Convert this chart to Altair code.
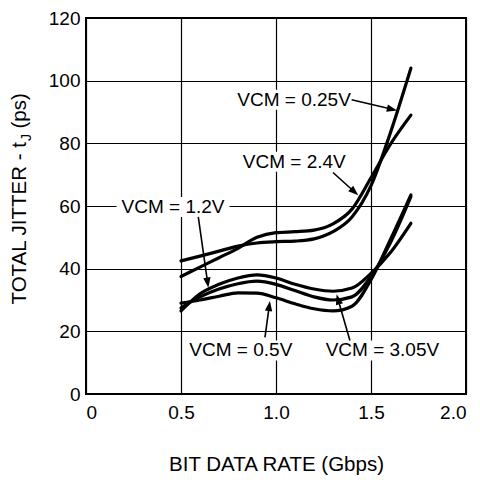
import math
import altair as alt
import pandas as pd

# ---------------- data ----------------
rate = [0.5, 0.6, 0.7, 0.8, 0.9, 1.0, 1.1, 1.2, 1.3, 1.4, 1.5, 1.6, 1.71]

vcm_025 = [42.5, 44.0, 45.6, 47.2, 48.2, 48.6, 48.8, 49.5, 51.8, 56.5, 66.5, 83.0, 104.0]
vcm_24 = [37.5, 40.5, 43.5, 46.5, 50.0, 51.5, 51.8, 52.3, 54.3, 59.0, 69.0, 79.5, 89.0]
vcm_12 = [26.5, 32.0, 35.0, 37.0, 38.0, 37.0, 35.0, 33.5, 32.8, 33.8, 38.5, 45.0, 54.5]
vcm_305 = [27.5, 31.0, 33.5, 35.2, 36.0, 35.0, 33.0, 31.0, 30.0, 31.0, 37.5, 48.0, 63.0]
vcm_05 = [29.0, 30.0, 31.2, 32.3, 32.2, 30.7, 28.8, 27.2, 26.5, 28.0, 36.5, 49.0, 63.5]

series_names = ["VCM = 0.25V", "VCM = 2.4V", "VCM = 1.2V", "VCM = 3.05V", "VCM = 0.5V"]
series_values = [vcm_025, vcm_24, vcm_12, vcm_305, vcm_05]

# annotation labels (data coordinates) and their arrows
label_text = ["VCM = 0.25V", "VCM = 2.4V", "VCM = 1.2V", "VCM = 0.5V", "VCM = 3.05V"]
label_x = [1.095, 1.096, 0.458, 0.815, 1.56]
label_y = [93.9, 74.1, 59.7, 13.9, 13.9]
arrow_x1 = [1.398, 1.30, 0.591, 0.942, 1.389]
arrow_y1 = [93.9, 70.7, 56.5, 18.1, 17.1]
arrow_x2 = [1.637, 1.433, 0.644, 0.968, 1.319]
arrow_y2 = [90.5, 63.4, 33.9, 29.7, 31.8]

x_ticks = [0, 0.5, 1.0, 1.5, 2.0]
y_ticks = [0, 20, 40, 60, 80, 100, 120]
x_title = "BIT DATA RATE (Gbps)"
y_title_main = "TOTAL JITTER - t"
y_title_sub = "J"
y_title_end = "(ps)"

# ---------------- layout / style ----------------
W, H = 380, 376
X_MAX, Y_MAX = 2.0, 120.0
PX_X = W / X_MAX
PX_Y = H / Y_MAX
FONT = "Liberation Sans"
FS = 19
TFS = 20.5
label_width_px = [116, 106, 107, 105, 116]

rows = []
for name, vals in zip(series_names, series_values):
    for r, v in zip(rate, vals):
        rows.append({"series": name, "rate": r, "jitter": v})
curves = pd.DataFrame(rows)

labels = pd.DataFrame({
    "text": label_text,
    "x": label_x,
    "y": label_y,
    "bx1": [x - (w / 2 + 3) / PX_X for x, w in zip(label_x, label_width_px)],
    "bx2": [x + (w / 2 + 3) / PX_X for x, w in zip(label_x, label_width_px)],
    "by1": [y - 10 / PX_Y for y in label_y],
    "by2": [y + 10 / PX_Y for y in label_y],
})

arrow_rows = []
for x1, y1, x2, y2 in zip(arrow_x1, arrow_y1, arrow_x2, arrow_y2):
    dx = (x2 - x1) * PX_X
    dy = -(y2 - y1) * PX_Y  # screen space, down positive
    ang = math.degrees(math.atan2(dx, -dy)) % 360
    L = math.hypot(dx, dy)
    f = max(0.0, (L - 5) / L)
    arrow_rows.append({
        "x1": x1, "y1": y1,
        "xe": x1 + (x2 - x1) * f, "ye": y1 + (y2 - y1) * f,
        "x2": x2, "y2": y2, "ang": ang,
    })
arrows = pd.DataFrame(arrow_rows)

x_scale = alt.Scale(domain=[0, X_MAX], nice=False, zero=False)
y_scale = alt.Scale(domain=[0, Y_MAX], nice=False, zero=False)
axis_style = dict(
    grid=True, ticks=False, domain=False,
    gridColor="black", gridWidth=1.2, gridOpacity=1,
    labelFont=FONT, labelFontSize=FS, labelColor="black",
    titleFont=FONT, titleFontSize=TFS, titleColor="black", titleFontWeight="normal",
)
x_axis = alt.Axis(
    values=x_ticks, title=x_title,
    labelExpr="datum.value == 0 ? '0' : format(datum.value, '.1f')",
    labelPadding=9, titlePadding=32, **axis_style,
)
y_axis = alt.Axis(values=y_ticks, title=None, labelPadding=6, **axis_style)


def X(field):
    return alt.X(field, type="quantitative", scale=x_scale, axis=x_axis)


def Y(field):
    return alt.Y(field, type="quantitative", scale=y_scale, axis=y_axis)


lines = alt.Chart(curves).mark_line(
    color="black", strokeWidth=3.2, interpolate="monotone", strokeCap="round"
).encode(x=X("rate"), y=Y("jitter"), detail="series:N", order="rate:Q")

boxes = alt.Chart(labels).mark_rect(color="white").encode(
    x=X("bx1"), x2="bx2", y=Y("by1"), y2="by2"
)

texts = alt.Chart(labels).mark_text(
    font=FONT, fontSize=FS, color="black", align="center", baseline="middle"
).encode(x=X("x"), y=Y("y"), text="text:N")

rules = alt.Chart(arrows).mark_rule(color="black", strokeWidth=1.6).encode(
    x=X("x1"), y=Y("y1"), x2="xe", y2="ye"
)

heads = alt.Chart(arrows).mark_point(
    shape="M0,0 L-0.36,1 L0.36,1 Z", filled=True, color="black", opacity=1,
    size=420, strokeWidth=0,
).encode(x=X("x2"), y=Y("y2"), angle=alt.Angle("ang:Q", scale=None))

title_src = pd.DataFrame({"k": [0]})
yt_main = alt.Chart(title_src).mark_text(
    text=y_title_main, font=FONT, fontSize=TFS, angle=270, align="right",
    baseline="alphabetic", color="black"
).encode(x=alt.value(-60.5), y=alt.value(124))
yt_sub = alt.Chart(title_src).mark_text(
    text=y_title_sub, font=FONT, fontSize=14, angle=270, align="left",
    baseline="alphabetic", color="black"
).encode(x=alt.value(-55), y=alt.value(123))
yt_end = alt.Chart(title_src).mark_text(
    text=y_title_end, font=FONT, fontSize=TFS, angle=270, align="left",
    baseline="alphabetic", color="black"
).encode(x=alt.value(-60.5), y=alt.value(110.5))

chart = alt.layer(lines, boxes, texts, rules, heads, yt_main, yt_sub, yt_end).properties(
    width=W, height=H,
    padding={"left": 78, "top": 10, "right": 6, "bottom": 86},
    autosize=alt.AutoSizeParams(type="none"),
    background="white",
).configure_view(
    stroke="black", strokeWidth=2
)

chart.save("out.html", embed_options={"renderer": "svg", "actions": False})
